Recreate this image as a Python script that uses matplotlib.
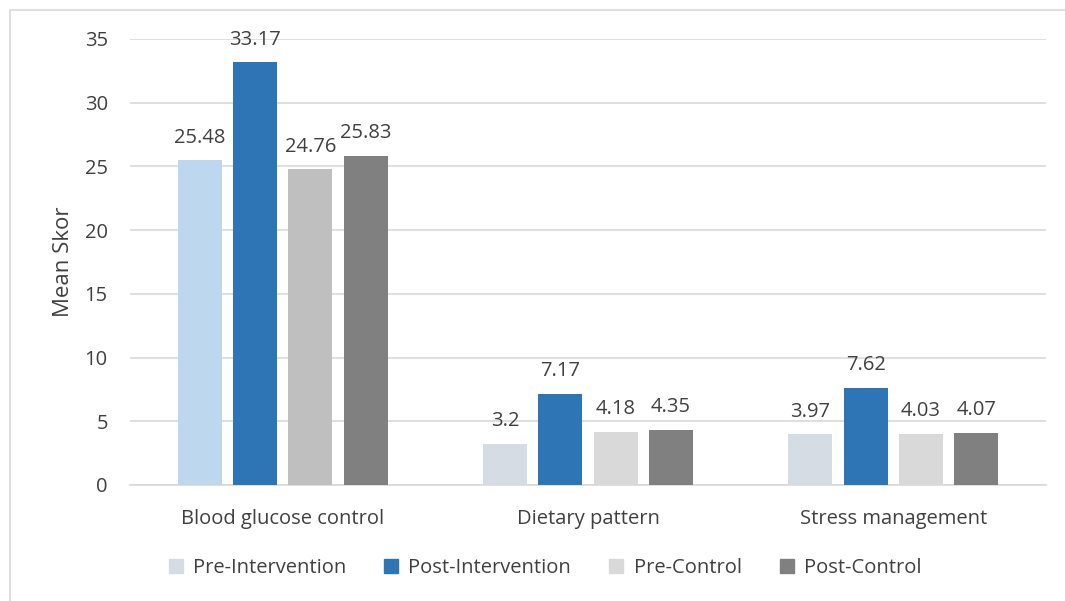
import matplotlib
matplotlib.use('Agg')
import matplotlib.pyplot as plt
from matplotlib.patches import Rectangle
import numpy as np

plt.rcParams['font.family'] = ['Open Sans', 'DejaVu Sans']

categories = ['Blood glucose control', 'Dietary pattern', 'Stress management']
series = ['Pre-Intervention', 'Post-Intervention', 'Pre-Control', 'Post-Control']
values = {
    'Pre-Intervention': [25.48, 3.2, 3.97],
    'Post-Intervention': [33.17, 7.17, 7.62],
    'Pre-Control': [24.76, 4.18, 4.03],
    'Post-Control': [25.83, 4.35, 4.07],
}
labels = {
    'Pre-Intervention': ['25.48', '3.2', '3.97'],
    'Post-Intervention': ['33.17', '7.17', '7.62'],
    'Pre-Control': ['24.76', '4.18', '4.03'],
    'Post-Control': ['25.83', '4.35', '4.07'],
}
# first group uses its own point colours for the two "pre" series
colors = {
    'Pre-Intervention': ['#BDD7EE', '#D6DCE4', '#D6DCE4'],
    'Post-Intervention': ['#2E75B6', '#2E75B6', '#2E75B6'],
    'Pre-Control': ['#BFBFBF', '#D9D9D9', '#D9D9D9'],
    'Post-Control': ['#808080', '#808080', '#808080'],
}
legend_colors = ['#D6DCE4', '#2E75B6', '#D9D9D9', '#808080']

fig = plt.figure(figsize=(10.65, 6.01), dpi=100)
ax = fig.add_axes([130 / 1065, 1 - 485 / 601, (1046 - 130) / 1065, (485 - 39) / 601])

x = np.arange(len(categories))
pitch = 0.181
width = 0.144
text_color = '#404040'
for i, s in enumerate(series):
    pos = x + (i - 1.5) * pitch
    ax.bar(pos, values[s], width, color=colors[s], zorder=3)
    for px, v, lab in zip(pos, values[s], labels[s]):
        ax.text(px, v + 1.0, lab, ha='center', va='bottom', fontsize=14.5, color=text_color)

ax.set_xlim(-0.5, 2.5)
ax.set_ylim(0, 35)
ax.set_yticks(range(0, 36, 5))
ax.yaxis.grid(True, color='#D9D9D9', linewidth=1.2, zorder=0)
ax.set_axisbelow(True)
for sp in ['top', 'right', 'left']:
    ax.spines[sp].set_visible(False)
ax.spines['bottom'].set_color('#D9D9D9')
ax.spines['bottom'].set_linewidth(1.2)
ax.tick_params(axis='both', length=0, labelsize=14.5, labelcolor=text_color)
ax.tick_params(axis='y', pad=16)
ax.tick_params(axis='x', pad=17)
ax.set_xticks(x)
ax.set_xticklabels(categories)
ax.set_ylabel('Mean Skor', fontsize=16, color=text_color, labelpad=8)

handles = [Rectangle((0, 0), 1, 1, color=c) for c in legend_colors]
fig.legend(handles, series, loc='center', bbox_to_anchor=(545 / 1065, 1 - 568 / 601),
           ncol=4, frameon=False, fontsize=14.5, handlelength=0.7, handleheight=0.7,
           handletextpad=0.5, columnspacing=1.9, labelcolor=text_color)

# outer chart border (cut off on the right and bottom)
fig.patches.append(Rectangle((10 / 1065, -0.1), 1.2, 1 - 10 / 601 + 0.1,
                             transform=fig.transFigure, fill=False,
                             edgecolor='#D9D9D9', linewidth=1.2))

fig.savefig('out.png', dpi=100)
